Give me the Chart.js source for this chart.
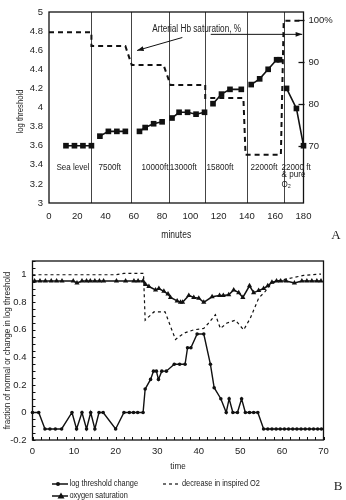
<!DOCTYPE html>
<html><head><meta charset="utf-8">
<script src="https://cdn.jsdelivr.net/npm/chart.js@4"></script>
<style>
html,body{margin:0;padding:0;background:#fff;}
#wrap{position:relative;width:346px;height:500px;overflow:hidden;background:#fff;}
canvas{position:absolute;left:0;}
#ca{top:0;width:346px;height:245px;}
#cb{top:245px;width:346px;height:255px;}
</style></head><body>
<div id="wrap"><canvas id="ca" width="346" height="245"></canvas><canvas id="cb" width="346" height="255"></canvas></div>
<script>
// ---------- Panel A data ----------
const thrMinutes = [12,18,24,30, 36,42,48,54, 64,68,74,80, 87,92,98,104,110, 116,122,128,136, 143,149,155,161,163, 168,175,180];
const thrLog     = [3.60,3.60,3.60,3.60, 3.70,3.75,3.75,3.75, 3.75,3.79,3.83,3.85, 3.89,3.95,3.95,3.93,3.95, 4.04,4.14,4.19,4.19, 4.24,4.30,4.40,4.50,4.50, 4.20,3.99,3.60];
const thrStage   = [0,0,0,0, 1,1,1,1, 2,2,2,2, 3,3,3,3,3, 4,4,4,4, 5,5,5,5,5, 6,6,6];
const satMinutes = [0,30,30,54,58.5,81,86,110.5,110.5,137.5,139,164,166,180];
const satPct     = [97.1,97.1,93.8,93.8,89.3,89.3,84.5,84.5,81.4,81.4,67.9,67.9,99.8,99.8];
const stageBounds = [30,58,85,110,140,166];
const stageLabels = ['Sea level','7500ft','10000ft','13000ft','15800ft','22000ft'];
const stageLabelAt = [17,43,75,95,121,152];
const logTicksStep = 0.2;
const satTicks = [70,80,90,100];
const minuteTicksStep = 20;

// ---------- Panel B data ----------
const bThrTime = [0,1.5,3,4.2,5.5,7,9.5,10.6,11.9,13,14,15,16,17,20,22,23.3,24.3,25.3,26.6,27.1,28.4,29.1,29.8,30.3,31.1,32.2,34.1,35.4,36.7,37.3,38.1,39.6,41.2,42.8,43.7,45.3,46.6,47.3,48.2,49.3,50.3,51.2,52.2,53.2,54.2,55.6,56.6,57.6,58.6,59.6,60.6,61.6,62.6,63.6,64.6,65.6,66.6,67.6,68.6,69.5];
const bThrChange = [0,0,-0.12,-0.12,-0.12,-0.12,0,-0.12,0,-0.12,0,-0.12,0,0,-0.12,0,0,0,0,0,0.17,0.24,0.30,0.30,0.24,0.30,0.30,0.35,0.35,0.35,0.47,0.47,0.57,0.57,0.35,0.18,0.10,0,0.10,0,0,0.10,0,0,0,0,-0.12,-0.12,-0.12,-0.12,-0.12,-0.12,-0.12,-0.12,-0.12,-0.12,-0.12,-0.12,-0.12,-0.12,-0.12];
const bO2Time = [0,8,20,22,26.7,27.1,29.2,31.9,33.2,34.4,35.2,36.8,38.8,41.2,42.4,44,45.2,46.8,48.8,50.8,52.4,54.4,56,57.2,58.8,62.8,65.2,69.4];
const bO2Frac = [1.0,1.0,1.0,1.01,1.01,0.67,0.73,0.73,0.625,0.53,0.55,0.58,0.60,0.61,0.65,0.71,0.61,0.65,0.67,0.60,0.685,0.83,0.88,0.93,0.955,0.98,0.995,1.005];
const bSatTime = [0.5,1.8,3.1,4.5,5.8,7.1,9.8,10.7,11.9,13,13.9,15,16.1,17.1,20.2,22.4,24.4,25.4,26.6,27.2,28,29.6,30.4,31.6,32.6,33.2,34.8,35.6,36.1,37.6,38.8,40,41.2,43.2,45,45.9,47.2,48.4,49.6,50.6,52.2,53.2,54.4,55.6,56.6,57.6,58.7,59.7,61,63,64.8,66,67.2,68.4,69.4];
const bSatFrac = [0.955,0.955,0.955,0.955,0.955,0.955,0.955,0.94,0.955,0.955,0.955,0.955,0.955,0.955,0.955,0.955,0.955,0.955,0.955,0.93,0.915,0.89,0.90,0.88,0.86,0.835,0.81,0.80,0.80,0.85,0.835,0.83,0.80,0.84,0.85,0.85,0.855,0.89,0.87,0.835,0.92,0.87,0.885,0.90,0.92,0.945,0.955,0.955,0.955,0.94,0.955,0.955,0.955,0.955,0.955];
const seriesNames = ['log threshold change','decrease in inspired O2','oxygen saturation'];

const FONT = "'Liberation Sans', Arial, sans-serif";
Chart.defaults.font.family = FONT;
Chart.defaults.color = '#222';

function pts(xs, ys){ return xs.map((x,i)=>({x:x, y:ys[i]})); }
// narrow text helper (the scanned figure uses a condensed face)
function ntext(ctx, s, x, y, size, align, sx){
  ctx.save(); ctx.translate(x,y); ctx.scale(sx||0.85,1);
  ctx.font = size+'px '+FONT; ctx.textAlign = align||'left'; ctx.textBaseline='middle';
  ctx.fillText(s,0,0); ctx.restore();
}

const thrPts = [];
thrMinutes.forEach((m,i)=>{
  if(i>0 && thrStage[i]!==thrStage[i-1]) thrPts.push({x:stageBounds[thrStage[i]-1], y:null});
  thrPts.push({x:m, y:thrLog[i]});
});

const panelA = {
  id:'panelA',
  beforeDatasetsDraw(chart){
    const {ctx, chartArea:a, scales:{x}} = chart;
    ctx.save(); ctx.strokeStyle='#444'; ctx.lineWidth=1;
    stageBounds.forEach(b=>{const px=Math.round(x.getPixelForValue(b))+0.5; ctx.beginPath(); ctx.moveTo(px,a.top); ctx.lineTo(px,a.bottom); ctx.stroke();});
    ctx.restore();
  },
  afterDraw(chart){
    const {ctx, chartArea:a, scales:{x,y,y2}} = chart;
    ctx.save();
    ctx.strokeStyle='#111'; ctx.lineWidth=1.3;
    ctx.strokeRect(a.left,a.top,a.right-a.left,a.bottom-a.top);
    satTicks.forEach(v=>{const py=Math.round(y2.getPixelForValue(v))+0.5; ctx.beginPath(); ctx.moveTo(a.right-5,py); ctx.lineTo(a.right+1,py); ctx.stroke();});
    ctx.fillStyle='#222';
    const ly = y.getPixelForValue(3.37);
    stageLabels.forEach((t,i)=>{ ntext(ctx, t, x.getPixelForValue(stageLabelAt[i]), ly, 9.5, 'center', 0.85); });
    const lx = x.getPixelForValue(164.5);
    ntext(ctx, '22000', lx, ly, 9.5, 'left', 0.85);
    ntext(ctx, 'ft', x.getPixelForValue(182), ly, 9.5, 'left', 0.85);
    ntext(ctx, '& pure', lx, y.getPixelForValue(3.30), 9.5, 'left', 0.85);
    ntext(ctx, 'O\u2082', lx, y.getPixelForValue(3.20), 9.5, 'left', 0.85);
    ntext(ctx, 'Arterial Hb saturation, %', x.getPixelForValue(73), y.getPixelForValue(4.815), 10, 'left', 0.82);
    function arrow(x1,y1,x2,y2v){
      const X1=x.getPixelForValue(x1), Y1=y.getPixelForValue(y1), X2=x.getPixelForValue(x2), Y2=y.getPixelForValue(y2v);
      ctx.lineWidth=1; ctx.strokeStyle='#111';
      ctx.beginPath(); ctx.moveTo(X1,Y1); ctx.lineTo(X2,Y2); ctx.stroke();
      const ang=Math.atan2(Y2-Y1,X2-X1), L=7, W=0.35;
      ctx.beginPath(); ctx.moveTo(X2,Y2);
      ctx.lineTo(X2-L*Math.cos(ang-W), Y2-L*Math.sin(ang-W));
      ctx.lineTo(X2-L*Math.cos(ang+W), Y2-L*Math.sin(ang+W));
      ctx.closePath(); ctx.fillStyle='#111'; ctx.fill();
    }
    arrow(94.3,4.733,62.3,4.597);
    arrow(114.4,4.766,179.1,4.766);
    ctx.fillStyle='#222';
    ntext(ctx, 'minutes', (a.left+a.right)/2, 235, 10, 'center', 0.85);
    ctx.save(); ctx.translate(21,(a.top+a.bottom)/2+4); ctx.rotate(-Math.PI/2);
    ntext(ctx, 'log threshold', 0, 0, 9, 'center', 0.85); ctx.restore();
    ctx.font='13px "Liberation Serif", serif'; ctx.textAlign='center'; ctx.textBaseline='middle';
    ctx.fillText('A', 336, 236);
    ctx.restore();
  }
};

const fmtNum = v => String(Math.round(v*100)/100);

new Chart(document.getElementById('ca'), {
  type:'scatter',
  data:{ datasets:[
    {data:thrPts, showLine:true, spanGaps:false, borderColor:'#111', borderWidth:1.6, backgroundColor:'#111',
     pointStyle:'rect', pointRadius:4, pointBorderWidth:0, yAxisID:'y', clip:false, order:0},
    {data:pts(satMinutes,satPct), showLine:true, borderColor:'#111', borderWidth:2, borderDash:[5,4],
     pointRadius:0, yAxisID:'y2', order:1}
  ]},
  options:{
    responsive:false, animation:false, events:[],
    layout:{padding:{top:12,left:0,right:0,bottom:0}},
    plugins:{legend:{display:false}, tooltip:{enabled:false}},
    scales:{
      x:{type:'linear', min:0, max:180,
         ticks:{stepSize:minuteTicksStep, padding:8, font:{size:9.5}, maxRotation:0, autoSkip:false, callback:fmtNum},
         grid:{display:false, drawTicks:false}, border:{display:false},
         afterFit(s){ s.height=42; }},
      y:{min:3, max:5,
         ticks:{stepSize:logTicksStep, padding:6, font:{size:9.5}, callback:fmtNum},
         grid:{display:false, drawTicks:false}, border:{display:false},
         afterFit(s){ s.width=49; }},
      y2:{position:'right', min:56.43, max:101.9,
         afterBuildTicks(s){ s.ticks = satTicks.map(v=>({value:v})); },
         ticks:{padding:5, font:{size:9.5}, callback:(v)=> v===100 ? '100%' : String(v)},
         grid:{display:false, drawTicks:false}, border:{display:false},
         afterFit(s){ s.width=42.5; }}
    }
  },
  plugins:[panelA]
});

// ---------- Panel B ----------
const panelB = {
  id:'panelB',
  afterDraw(chart){
    const {ctx, chartArea:a, scales:{x,y}} = chart;
    ctx.save();
    ctx.strokeStyle='#111'; ctx.lineWidth=1.3;
    ctx.strokeRect(a.left,a.top,a.right-a.left,a.bottom-a.top);
    ctx.lineWidth=1;
    x.ticks.forEach(t=>{const px=Math.round(x.getPixelForValue(t.value))+0.5; ctx.beginPath(); ctx.moveTo(px,a.bottom); ctx.lineTo(px,a.bottom-3); ctx.stroke();});
    y.ticks.forEach(t=>{const py=Math.round(y.getPixelForValue(t.value))+0.5; ctx.beginPath(); ctx.moveTo(a.left,py); ctx.lineTo(a.left+3,py); ctx.stroke();});
    ctx.fillStyle='#222';
    ntext(ctx, 'time', (a.left+a.right)/2, 221, 9.5, 'center', 0.85);
    ctx.save(); ctx.translate(7,(a.top+a.bottom)/2); ctx.rotate(-Math.PI/2);
    ntext(ctx, 'fraction of normal or change in log threshold', 0, 0, 9.5, 'center', 0.85); ctx.restore();
    const r1=239, r2=251;
    ctx.strokeStyle='#111'; ctx.lineWidth=1.5;
    ctx.beginPath(); ctx.moveTo(52,r1); ctx.lineTo(68,r1); ctx.stroke();
    ctx.beginPath(); ctx.arc(58,r1,2,0,Math.PI*2); ctx.fillStyle='#111'; ctx.fill();
    ctx.fillStyle='#222'; ntext(ctx, seriesNames[0], 69.5, r1, 9, 'left', 0.82);
    ctx.setLineDash([3,3]); ctx.lineWidth=1.2;
    ctx.beginPath(); ctx.moveTo(163,r1); ctx.lineTo(180,r1); ctx.stroke(); ctx.setLineDash([]);
    ntext(ctx, seriesNames[1], 182, r1, 9, 'left', 0.82);
    ctx.lineWidth=1.5;
    ctx.beginPath(); ctx.moveTo(52,r2); ctx.lineTo(68,r2); ctx.stroke();
    ctx.beginPath(); ctx.moveTo(61,r2-3.5); ctx.lineTo(64.5,r2+2.5); ctx.lineTo(57.5,r2+2.5); ctx.closePath(); ctx.fillStyle='#111'; ctx.fill();
    ctx.fillStyle='#222'; ntext(ctx, seriesNames[2], 69.5, r2, 9, 'left', 0.82);
    ctx.font='13px "Liberation Serif", serif'; ctx.textAlign='center'; ctx.textBaseline='middle';
    ctx.fillText('B', 338, 242);
    ctx.restore();
  }
};

new Chart(document.getElementById('cb'), {
  type:'scatter',
  data:{ datasets:[
    {label:seriesNames[0], data:pts(bThrTime,bThrChange), showLine:true, borderColor:'#111', borderWidth:1.4,
     backgroundColor:'#111', pointStyle:'circle', pointRadius:1.8, pointBorderWidth:0, clip:false},
    {label:seriesNames[1], data:pts(bO2Time,bO2Frac), showLine:true, borderColor:'#111', borderWidth:1.2,
     borderDash:[3,3], pointRadius:0},
    {label:seriesNames[2], data:pts(bSatTime,bSatFrac), showLine:true, borderColor:'#111', borderWidth:1.5,
     backgroundColor:'#111', pointStyle:'triangle', pointRadius:3, pointBorderWidth:0, clip:false}
  ]},
  options:{
    responsive:false, animation:false, events:[],
    layout:{padding:{top:16,left:0,right:22.5,bottom:0}},
    plugins:{legend:{display:false}, tooltip:{enabled:false}},
    scales:{
      x:{type:'linear', min:0, max:70,
         ticks:{stepSize:2, padding:6, font:{size:9.5}, maxRotation:0, autoSkip:false,
                callback:(v)=> (Math.abs(v%10)<1e-9 ? String(v) : '')},
         grid:{display:false, drawTicks:false}, border:{display:false},
         afterFit(s){ s.height=60; }},
      y:{min:-0.2, max:1.1,
         ticks:{stepSize:0.05, padding:6, font:{size:9.5}, autoSkip:false,
                callback:(v)=>{ const k=v*5; return Math.abs(k-Math.round(k))<1e-6 ? String(Math.round(k)/5) : ''; }},
         grid:{display:false, drawTicks:false}, border:{display:false},
         afterFit(s){ s.width=32.5; }}
    }
  },
  plugins:[panelB]
});
</script>
</body></html>
